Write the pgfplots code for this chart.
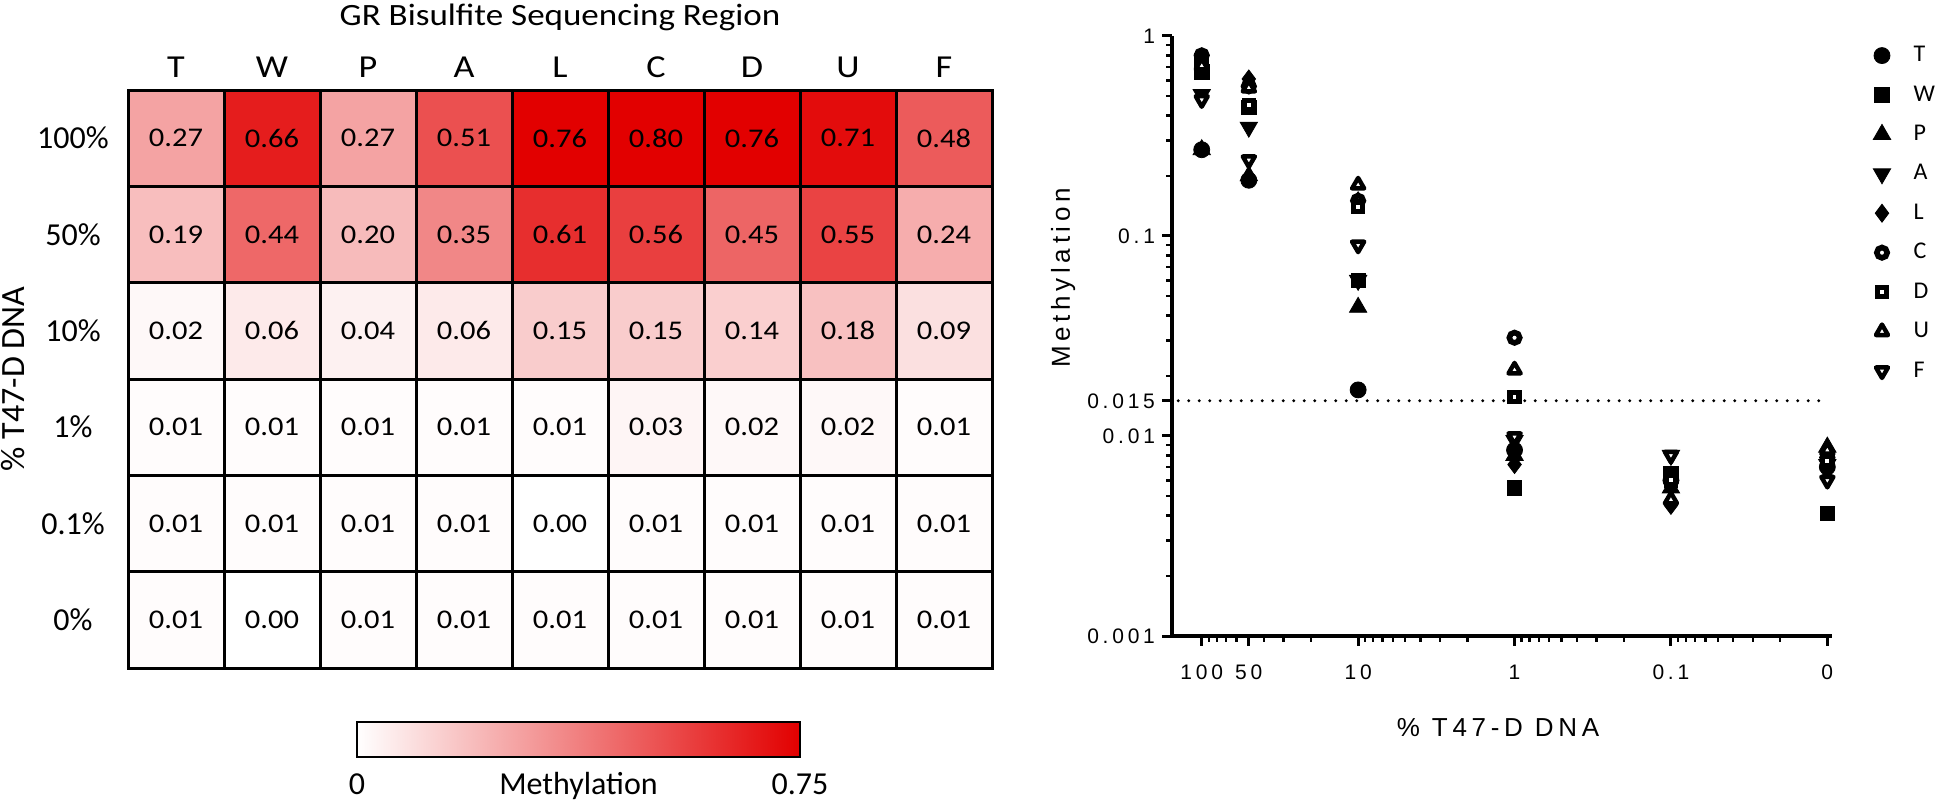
\documentclass[border=0pt]{standalone}
\usepackage{fontspec}
\setmainfont{Carlito}
\newfontfamily\calw[FakeStretch=1.13]{Carlito}
\newfontfamily\prism[LetterSpace=18]{Liberation Sans}
\usepackage{pgfplots}
\usepackage{pgfplotstable}
\pgfplotsset{compat=1.18}
\pgfplotsset{/pgf/number format/assume math mode=true}
\pgfplotsset{colormap={wr}{rgb255(0cm)=(255,255,255); rgb255(1cm)=(226,0,0)}}

\pgfplotstableread{
x y v
1 1 0.27
2 1 0.66
3 1 0.27
4 1 0.51
5 1 0.76
6 1 0.80
7 1 0.76
8 1 0.71
9 1 0.48
1 2 0.19
2 2 0.44
3 2 0.20
4 2 0.35
5 2 0.61
6 2 0.56
7 2 0.45
8 2 0.55
9 2 0.24
1 3 0.02
2 3 0.06
3 3 0.04
4 3 0.06
5 3 0.15
6 3 0.15
7 3 0.14
8 3 0.18
9 3 0.09
1 4 0.01
2 4 0.01
3 4 0.01
4 4 0.01
5 4 0.01
6 4 0.03
7 4 0.02
8 4 0.02
9 4 0.01
1 5 0.01
2 5 0.01
3 5 0.01
4 5 0.01
5 5 0.00
6 5 0.01
7 5 0.01
8 5 0.01
9 5 0.01
1 6 0.01
2 6 0.00
3 6 0.01
4 6 0.01
5 6 0.01
6 6 0.01
7 6 0.01
8 6 0.01
9 6 0.01
}\heat

% u = -log10(% T47-D DNA); the 0% sample is drawn at u = 2
\pgfplotstableread{
u T W P A L C D U F
-2 0.27 0.66 0.27 0.51 0.76 0.80 0.76 0.71 0.48
-1.69897 0.19 0.44 0.20 0.35 0.61 0.56 0.45 0.55 0.24
-1 0.017 0.06 0.044 0.06 0.15 0.15 0.14 0.18 0.09
0 0.0085 0.0055 0.008 0.0095 0.0072 0.031 0.0157 0.0214 0.0099
1 0.006 0.0065 0.0055 0.008 0.0045 0.006 0.006 0.0048 0.008
2 0.007 0.0041 0.0088 0.0072 0.0062 0.0078 0.0075 0.0085 0.006
}\meth

\begin{document}
\begin{tikzpicture}
\path[use as bounding box] (0,0) rectangle (973pt,403pt);

% ---------------- heatmap ----------------
\begin{axis}[
  at={(64pt,69pt)}, anchor=south west,
  scale only axis, width=432pt, height=289pt,
  xmin=0.5, xmax=9.5, ymin=0.5, ymax=6.5, y dir=reverse,
  xtick={1,...,9}, xticklabels={T,W,P,A,L,C,D,U,F},
  xticklabel pos=upper,
  ytick={1,...,6}, yticklabels={100\%,50\%,10\%,1\%,0.1\%,0\%},
  major tick length=0pt, minor tick length=0pt,
  minor xtick={1.5,2.5,...,8.5}, minor ytick={1.5,2.5,...,5.5},
  xminorgrids=true, yminorgrids=true,
  minor grid style={black, line width=1.5pt},
  axis line style={black, line width=1.5pt},
  axis on top,
  colormap name=wr,
  point meta min=0, point meta max=0.75,
  xticklabel style={font=\calw\fontsize{16}{16}\selectfont, anchor=base, yshift=6pt},
  yticklabel style={font=\fontsize{16}{16}\selectfont, anchor=center, xshift=-27.5pt},
  title={GR Bisulfite Sequencing Region},
  title style={font=\calw\fontsize{15.5}{16}\selectfont, at={(axis description cs:0.5,1)}, anchor=base, yshift=26pt},
  ylabel={\% T47-D DNA},
  ylabel style={font=\fontsize{17}{17}\selectfont, at={(axis description cs:-0.133,0.5)}, anchor=center},
]
\addplot[matrix plot*, mesh/cols=9, point meta=explicit,
  nodes near coords={\pgfmathprintnumber[fixed,fixed zerofill,precision=2]{\pgfplotspointmeta}},
  every node near coord/.append style={anchor=center, font=\calw\fontsize{13.5}{14}\selectfont, text=black}]
  table[x=x, y=y, meta=v] {\heat};
\end{axis}

% ---------------- colour scale ----------------
\begin{axis}[
  at={(178.5pt,24.5pt)}, anchor=south west, scale only axis,
  width=221.5pt, height=17.5pt,
  xmin=0, xmax=0.75, ymin=0, ymax=1,
  colormap name=wr, point meta min=0, point meta max=0.75,
  xtick={0,0.75}, xticklabels={0,0.75}, ytick=\empty,
  major tick length=0pt,
  axis line style={black, line width=1pt},
  axis on top,
  xticklabel style={font=\fontsize{16}{16}\selectfont, anchor=base, yshift=-19pt},
  xlabel={Methylation},
  xlabel style={font=\fontsize{16}{16}\selectfont, at={(axis description cs:0.5,0)}, anchor=base, yshift=-19pt},
]
\addplot[surf, shader=interp, point meta=x, mesh/rows=2] coordinates {(0,0) (0.75,0) (0,1) (0.75,1)};
\end{axis}

% ---------------- methylation vs % DNA ----------------
\begin{axis}[
  at={(586pt,85pt)}, anchor=south west,
  scale only axis, width=330pt, height=300pt,
  xmin=-2.19, xmax=2.03, ymode=log, ymin=0.001, ymax=1,
  axis x line*=bottom, axis y line*=left,
  axis line style={black, line width=1.75pt},
  tick align=outside,
  xtick={-2,-1.69897,-1,0,1,2}, xticklabels={100,50,10,1,0.1,0},
  minor xtick={-1.95424,-1.90309,-1.84510,-1.77815,-1.60206,-1.47712,-1.30103,-0.95424,-0.90309,-0.84510,-0.77815,-0.69897,-0.60206,-0.47712,-0.30103,0.04576,0.09691,0.15490,0.22185,0.30103,0.39794,0.52288,0.69897,1.04576,1.09691,1.15490,1.22185,1.30103,1.39794,1.52288,1.69897},
  ytick={0.001,0.01,0.015,0.1,1}, yticklabels={0.001,0.01,0.015,0.1,1},
  minor ytick={0.002,0.003,0.004,0.005,0.006,0.007,0.008,0.009,0.02,0.03,0.04,0.05,0.06,0.07,0.08,0.09,0.2,0.3,0.4,0.5,0.6,0.7,0.8,0.9},
  major tick length=5pt, minor tick length=3pt,
  major tick style={black, line width=1.5pt},
  minor tick style={black, line width=1.2pt},
  tick label style={font=\prism\fontsize{10.5}{10.5}\selectfont},
  xticklabel style={anchor=base, yshift=-17pt},
  xlabel={\% T47-D DNA},
  xlabel style={font=\prism\fontsize{13}{13}\selectfont, at={(axis description cs:0.494,-0.153)}, anchor=center},
  ylabel={Methylation},
  ylabel style={font=\prism\fontsize{13}{13}\selectfont, at={(axis description cs:-0.165,0.597)}, anchor=center},
  clip=false,
  legend style={at={(axis description cs:1.062,0.99)}, anchor=north west, draw=none, fill=none,
    inner sep=0pt, font=\fontsize{12}{12}\selectfont, row sep=6.5pt,
    /tikz/every odd column/.append style={column sep=9.5pt}},
  legend cell align=left,
]
\addplot[black, line width=1.6pt, line cap=round, dash pattern=on 0pt off 5.25pt, forget plot]
  coordinates {(-2.15,0.015) (2.0,0.015)};
\addplot[only marks, black, mark=*, mark size=4pt] table[x=u, y=T] {\meth};
\addlegendentry{T}
\addplot[only marks, black, mark=square*, mark size=3.6pt] table[x=u, y=W] {\meth};
\addlegendentry{W}
\addplot[only marks, black, mark=triangle*, mark size=5pt] table[x=u, y=P] {\meth};
\addlegendentry{P}
\addplot[only marks, black, mark=triangle*, mark size=5pt, mark options={rotate=180}] table[x=u, y=A] {\meth};
\addlegendentry{A}
\addplot[only marks, black, mark=diamond*, mark size=4.5pt] table[x=u, y=L] {\meth};
\addlegendentry{L}
\addplot[only marks, mark=*, mark size=2.6pt, mark options={draw=black, fill=white, line width=2.8pt}] table[x=u, y=C] {\meth};
\addlegendentry{C}
\addplot[only marks, mark=square*, mark size=2.3pt, mark options={draw=black, fill=white, line width=2.7pt}] table[x=u, y=D] {\meth};
\addlegendentry{D}
\addplot[only marks, mark=triangle*, mark size=3.5pt, mark options={draw=black, fill=white, line width=2.2pt, line join=round}] table[x=u, y=U] {\meth};
\addlegendentry{U}
\addplot[only marks, mark=triangle*, mark size=3.5pt, mark options={draw=black, fill=white, line width=2.2pt, line join=round, rotate=180}] table[x=u, y=F] {\meth};
\addlegendentry{F}
\end{axis}
\end{tikzpicture}
\end{document}
